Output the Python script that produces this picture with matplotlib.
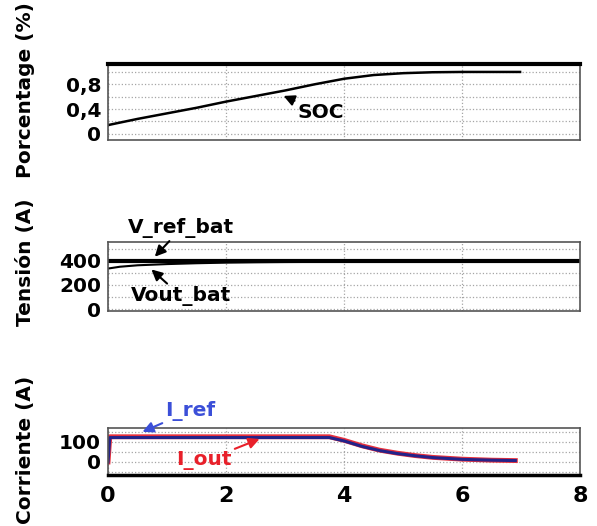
import matplotlib.pyplot as plt
from matplotlib.ticker import FixedLocator, FixedFormatter

plt.rcParams['font.family'] = ['DejaVu Sans']
plt.rcParams['font.weight'] = 'bold'

# State of charge
t_soc = [0, 0.5, 1, 1.5, 2, 2.5, 3, 3.5, 4, 4.5, 5, 5.5, 6, 6.98]
soc = [0.14, 0.24, 0.33, 0.42, 0.52, 0.61, 0.70, 0.80, 0.89, 0.95, 0.98, 0.995, 1.0, 1.0]

# Battery voltage
t_vref = [0, 8]
v_ref = [400, 400]
t_vout = [0, 0.2, 0.5, 1, 1.5, 2, 2.5, 3, 4, 5, 5.1, 7]
v_out = [335, 350, 362, 372, 379, 384, 387, 389, 391, 393, 400, 400]

# Battery current
t_cur = [0, 0.03, 3.75, 4.0, 4.3, 4.6, 4.9, 5.2, 5.5, 6.0, 6.5, 6.9]
i_ref = [0, 122, 122, 105, 78, 57, 42, 31, 22, 13, 9, 7]
i_out = [0, 126, 126, 108, 81, 59, 44, 32, 23, 14, 9, 7]

fig = plt.figure(figsize=(5.97, 5.26), dpi=100)
ax1 = fig.add_axes([0.181, 0.734, 0.791, 0.1445])
ax2 = fig.add_axes([0.181, 0.409, 0.791, 0.131])
ax3 = fig.add_axes([0.181, 0.097, 0.791, 0.0894])

grid_kw = dict(color='#a5a5a5', linestyle=':', linewidth=0.9)
arrow_kw = dict(arrowstyle='-|>', lw=1.5, mutation_scale=16, shrinkA=0)


def style(ax, major, labels, minor):
    ax.set_xlim(0, 8)
    ax.xaxis.set_major_locator(FixedLocator([0, 2, 4, 6, 8]))
    ax.yaxis.set_major_locator(FixedLocator(major))
    ax.yaxis.set_major_formatter(FixedFormatter(labels))
    ax.yaxis.set_minor_locator(FixedLocator(minor))
    ax.grid(True, which='both', axis='y', **grid_kw)
    ax.grid(True, which='major', axis='x', **grid_kw)
    ax.tick_params(which='both', length=0, labelsize=14.5, pad=5)
    for s in ax.spines.values():
        s.set_linewidth(1.2)
        s.set_color('#555555')


style(ax1, [0, 0.4, 0.8], ['0', '0,4', '0,8'], [0.2, 0.6, 1.0])
ax1.set_ylim(-0.1, 1.13)
ax1.spines['top'].set_linewidth(3)
ax1.spines['top'].set_color('black')
ax1.tick_params(axis='x', labelbottom=False)
ax1.plot(t_soc, soc, color='black', lw=1.8)
ax1.annotate('SOC', xy=(2.93, 0.63), xytext=(3.6, 0.35), ha='center', va='center',
             fontsize=14.5, arrowprops=dict(color='black', **arrow_kw))

style(ax2, [0, 200, 400], ['0', '200', '400'], [100, 300, 500])
ax2.set_ylim(-15, 555)
ax2.tick_params(axis='x', labelbottom=False)
ax2.plot(t_vout, v_out, color='black', lw=1.5)
ax2.plot(t_vref, v_ref, color='black', lw=3)
ax2.annotate('V_ref_bat', xy=(0.76, 416), xytext=(1.24, 668), ha='center', va='center',
             fontsize=14.5, annotation_clip=False,
             arrowprops=dict(color='black', **arrow_kw))
ax2.annotate('Vout_bat', xy=(0.7, 343), xytext=(1.24, 105), ha='center', va='center',
             fontsize=14.5, arrowprops=dict(color='black', **arrow_kw))

style(ax3, [0, 100], ['0', '100'], [-50, 50, 150])
ax3.set_ylim(-65, 170)
ax3.spines['bottom'].set_linewidth(2.5)
ax3.spines['bottom'].set_color('black')
ax3.tick_params(axis='x', labelsize=16, pad=8)
ax3.plot(t_cur, i_out, color='#e8303c', lw=3.5)
ax3.plot(t_cur, i_ref, color='#23238a', lw=2.2)
ax3.annotate('I_ref', xy=(0.54, 145), xytext=(1.39, 255), ha='center', va='center',
             fontsize=14.5, color='#3b4fd8', annotation_clip=False,
             arrowprops=dict(color='#3b4fd8', **arrow_kw))
ax3.annotate('I_out', xy=(2.61, 120), xytext=(1.63, 5), ha='center', va='center',
             fontsize=14.5, color='#e8202a',
             arrowprops=dict(color='#e8202a', **arrow_kw))

fig.text(0.042, 1 - 90 / 526, 'Porcentage (%)', rotation=90, ha='center', va='center', fontsize=14.5)
fig.text(0.042, 1 - 262 / 526, 'Tensión (A)', rotation=90, ha='center', va='center', fontsize=14.5)
fig.text(0.042, 1 - 450 / 526, 'Corriente (A)', rotation=90, ha='center', va='center', fontsize=14.5)

fig.savefig('out.png', dpi=100)
